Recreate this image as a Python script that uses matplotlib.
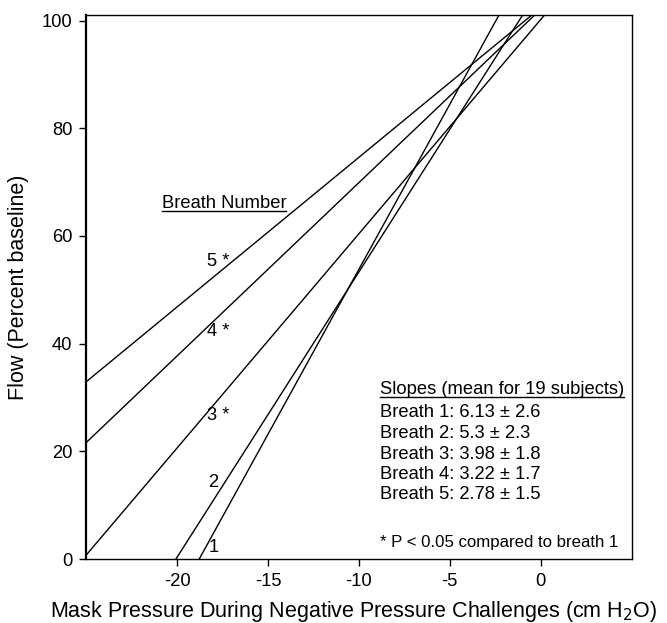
import matplotlib
matplotlib.use("Agg")
import matplotlib.pyplot as plt
from matplotlib.lines import Line2D
import numpy as np

plt.rcParams['font.family'] = ['Liberation Sans', 'DejaVu Sans']
plt.rcParams['axes.unicode_minus'] = False

# mean regression line for each breath: flow = intercept + slope * pressure
breaths = [1, 2, 3, 4, 5]
slopes = [6.13, 5.3, 3.98, 3.22, 2.78]
intercepts = [115.1, 106.3, 100.2, 102.1, 102.4]
line_labels = ["1", "2", "3 *", "4 *", "5 *"]
label_x = [-18.0, -18.03, -17.75, -17.75, -17.75]
label_y = [2.2, 14.2, 26.7, 42.2, 55.2]

slope_sd = [2.6, 2.3, 1.8, 1.7, 1.5]
slope_txt = ["6.13", "5.3", "3.98", "3.22", "2.78"]

xticks = [-20, -15, -10, -5, 0]
yticks = [0, 20, 40, 60, 80, 100]

fs = 13.2

fig = plt.figure(figsize=(6.67, 6.23), dpi=100)
ax = fig.add_axes([0.129, 0.1027, 0.818, 0.8737])

xs = np.array([-25.0, 5.0])
for s, b in zip(slopes, intercepts):
    ax.plot(xs, b + s * xs, color='black', lw=1.0)

for lab, lx, ly in zip(line_labels, label_x, label_y):
    ax.text(lx, ly, lab, ha='center', va='center', fontsize=fs)

ax.set_xlim(-25, 5)
ax.set_ylim(0, 101.1)
ax.set_xticks(xticks)
ax.set_yticks(yticks)
ax.tick_params(direction='out', length=5, width=1, labelsize=fs, pad=5)
for sp in ax.spines.values():
    sp.set_linewidth(1.0)
ax.spines['left'].set_linewidth(1.6)

ax.set_xlabel("Mask Pressure During Negative Pressure Challenges (cm H$_2$O)",
              fontsize=15.5)
ax.xaxis.set_label_coords(0.49, -0.073)
ax.set_ylabel("Flow (Percent baseline)", fontsize=15.5)
ax.yaxis.set_label_coords(-0.105, 0.5)

t1 = ax.text(-20.84, 66.1, "Breath Number", ha='left', va='center', fontsize=fs)
t2 = ax.text(-8.86, 31.5, "Slopes (mean for 19 subjects)", ha='left', va='center',
             fontsize=fs)
ys = [27.2, 23.3, 19.5, 15.7, 11.9]
for b, st, sd, y in zip(breaths, slope_txt, slope_sd, ys):
    ax.text(-8.86, y, "Breath %d: %s \u00b1 %s" % (b, st, sd), ha='left', va='center',
            fontsize=fs)
ax.text(-8.86, 3.0, "* P < 0.05 compared to breath 1", ha='left', va='center',
        fontsize=12.1)

# underline the two headings
fig.canvas.draw()
inv = fig.transFigure.inverted()
for t in (t1, t2):
    bb = t.get_window_extent()
    (x0, y0), (x1, _) = inv.transform([(bb.x0, bb.y0 + 1), (bb.x1, bb.y0 + 1)])
    fig.add_artist(Line2D([x0, x1], [y0, y0], color='black', lw=1.0))

fig.savefig("out.png", dpi=100)
